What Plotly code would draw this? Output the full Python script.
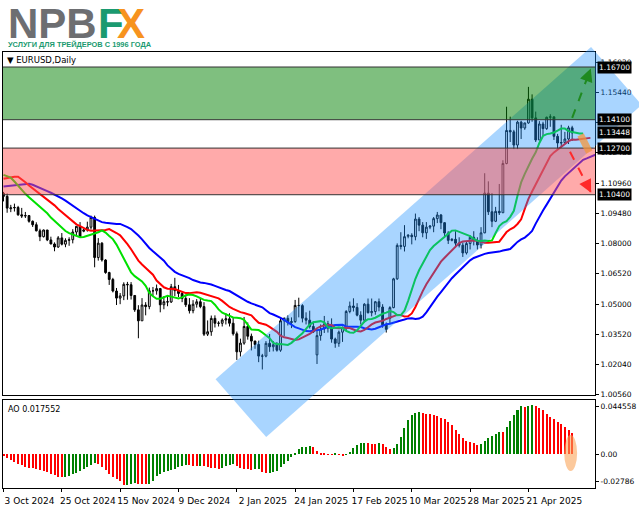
import numpy as np
import plotly.graph_objects as go

# ---------------- data (EURUSD daily) ----------------
OPEN = [1.1047,1.1032,1.0971,1.0975,1.0977,1.0941,1.0935,1.0937,1.0909,1.0892,
        1.0862,1.0833,1.0866,1.0817,1.0797,1.0782,1.0827,1.0796,1.0815,1.0818,
        1.0856,1.0884,1.0860,1.0866,1.0880,1.0928,1.0730,1.0801,1.0718,1.0656,
        1.0622,1.0565,1.0530,1.0541,1.0598,1.0596,1.0543,1.0472,1.0418,1.0496,
        1.0488,1.0566,1.0566,1.0577,1.0497,1.0512,1.0511,1.0586,1.0567,1.0553,
        1.0528,1.0497,1.0468,1.0500,1.0512,1.0488,1.0352,1.0364,1.0430,1.0406,
        1.0406,1.0422,1.0428,1.0406,1.0354,1.0265,1.0308,1.0390,1.0342,1.0318,
        1.0301,1.0244,1.0244,1.0307,1.0290,1.0300,1.0273,1.0418,1.0430,1.0409,
        1.0414,1.0494,1.0493,1.0431,1.0421,1.0390,1.0250,1.0345,1.0378,1.0403,
        1.0382,1.0328,1.0307,1.0362,1.0385,1.0464,1.0491,1.0484,1.0446,1.0421,
        1.0500,1.0458,1.0464,1.0512,1.0486,1.0398,1.0430,1.0483,1.0625,1.0790,
        1.0785,1.0835,1.0840,1.0833,1.0920,1.0890,1.0852,1.0880,1.0885,1.0922,
        1.0940,1.0902,1.0851,1.0815,1.0820,1.0801,1.0791,1.0753,1.0799,1.0830,
        1.0815,1.0792,1.0852,1.1048,1.0956,1.0909,1.0958,1.0951,1.1194,1.1357,
        1.1350,1.1285,1.1398,1.1369,1.1394,1.1511,1.1419,1.1310,1.1389,1.1366,
        1.1422,1.1424,1.1328,1.1295,1.1297,1.1315,1.1370]
HIGH = [1.1054,1.1046,1.0990,1.0996,1.0985,1.0975,1.0955,1.0940,1.0913,1.0904,
        1.0872,1.0868,1.0866,1.0833,1.0805,1.0836,1.0851,1.0825,1.0830,1.0870,
        1.0885,1.0905,1.0872,1.0907,1.0937,1.0937,1.0826,1.0806,1.0722,1.0660,
        1.0630,1.0580,1.0555,1.0608,1.0610,1.0609,1.0545,1.0495,1.0530,1.0510,
        1.0582,1.0585,1.0597,1.0580,1.0540,1.0545,1.0600,1.0630,1.0595,1.0560,
        1.0540,1.0530,1.0520,1.0525,1.0530,1.0510,1.0420,1.0444,1.0445,1.0416,
        1.0430,1.0456,1.0455,1.0435,1.0365,1.0330,1.0437,1.0410,1.0355,1.0320,
        1.0320,1.0255,1.0318,1.0353,1.0318,1.0313,1.0433,1.0435,1.0445,1.0435,
        1.0521,1.0532,1.0500,1.0460,1.0468,1.0415,1.0375,1.0400,1.0442,1.0418,
        1.0430,1.0335,1.0370,1.0390,1.0471,1.0513,1.0529,1.0505,1.0465,1.0505,
        1.0528,1.0528,1.0516,1.0528,1.0500,1.0410,1.0490,1.0630,1.0800,1.0855,
        1.0890,1.0845,1.0850,1.0947,1.0930,1.0905,1.0905,1.0890,1.0930,1.0955,
        1.0945,1.0905,1.0860,1.0825,1.0860,1.0830,1.0805,1.0810,1.0840,1.0860,
        1.0830,1.0880,1.1146,1.1106,1.1048,1.0980,1.1093,1.1210,1.1474,1.1425,
        1.1360,1.1405,1.1405,1.1395,1.1572,1.1535,1.1450,1.1403,1.1400,1.1425,
        1.1437,1.1425,1.1340,1.1385,1.1350,1.1380,1.1380]
LOW = [1.1007,1.0951,1.0954,1.0957,1.0936,1.0925,1.0925,1.0902,1.0881,1.0859,
       1.0811,1.0829,1.0811,1.0796,1.0761,1.0778,1.0790,1.0781,1.0788,1.0800,
       1.0840,1.0832,1.0855,1.0858,1.0868,1.0682,1.0715,1.0710,1.0650,1.0595,
       1.0558,1.0496,1.0500,1.0520,1.0522,1.0523,1.0462,1.0332,1.0418,1.0445,
       1.0475,1.0540,1.0547,1.0460,1.0475,1.0490,1.0506,1.0540,1.0535,1.0510,
       1.0486,1.0454,1.0455,1.0483,1.0480,1.0343,1.0343,1.0344,1.0385,1.0390,
       1.0390,1.0400,1.0390,1.0345,1.0225,1.0242,1.0300,1.0325,1.0272,1.0280,
       1.0214,1.0178,1.0238,1.0265,1.0267,1.0266,1.0265,1.0342,1.0395,1.0382,
       1.0408,1.0435,1.0410,1.0400,1.0380,1.0358,1.0205,1.0320,1.0358,1.0360,
       1.0310,1.0285,1.0290,1.0314,1.0370,1.0455,1.0464,1.0440,1.0400,1.0410,
       1.0454,1.0440,1.0448,1.0465,1.0384,1.0360,1.0405,1.0480,1.0620,1.0770,
       1.0760,1.0825,1.0795,1.0815,1.0860,1.0830,1.0822,1.0870,1.0855,1.0900,
       1.0870,1.0830,1.0797,1.0810,1.0780,1.0780,1.0733,1.0745,1.0770,1.0790,
       1.0770,1.0775,1.0850,1.0940,1.0880,1.0905,1.0940,1.0950,1.1190,1.1300,
       1.1265,1.1265,1.1315,1.1360,1.1390,1.1400,1.1300,1.1310,1.1330,1.1360,
       1.1375,1.1310,1.1265,1.1280,1.1295,1.1290,1.1305]
CLOSE = [1.1032,1.0974,1.0975,1.0977,1.0941,1.0935,1.0937,1.0909,1.0892,1.0862,
         1.0833,1.0866,1.0817,1.0797,1.0782,1.0827,1.0796,1.0815,1.0818,1.0856,
         1.0884,1.0833,1.0866,1.0880,1.0928,1.0730,1.0801,1.0718,1.0656,1.0622,
         1.0565,1.0530,1.0541,1.0598,1.0596,1.0543,1.0472,1.0418,1.0496,1.0488,
         1.0566,1.0566,1.0577,1.0497,1.0512,1.0511,1.0586,1.0567,1.0553,1.0528,
         1.0497,1.0468,1.0500,1.0512,1.0488,1.0352,1.0364,1.0430,1.0406,1.0406,
         1.0422,1.0428,1.0406,1.0354,1.0265,1.0308,1.0390,1.0342,1.0318,1.0301,
         1.0244,1.0244,1.0307,1.0290,1.0300,1.0273,1.0418,1.0430,1.0409,1.0414,
         1.0494,1.0493,1.0431,1.0421,1.0390,1.0363,1.0345,1.0378,1.0403,1.0382,
         1.0328,1.0307,1.0362,1.0385,1.0464,1.0491,1.0484,1.0446,1.0421,1.0500,
         1.0458,1.0464,1.0512,1.0486,1.0398,1.0376,1.0483,1.0625,1.0790,1.0785,
         1.0833,1.0840,1.0833,1.0920,1.0890,1.0852,1.0880,1.0885,1.0922,1.0940,
         1.0902,1.0851,1.0815,1.0820,1.0801,1.0791,1.0753,1.0799,1.0830,1.0815,
         1.0792,1.0852,1.1048,1.0956,1.0909,1.0958,1.0951,1.1194,1.1357,1.1350,
         1.1285,1.1398,1.1369,1.1394,1.1511,1.1419,1.1310,1.1389,1.1366,1.1422,
         1.1424,1.1328,1.1295,1.1297,1.1315,1.1370,1.13448]

TICK_POS = [0, 16, 32, 48, 64, 80, 96, 112, 128, 144]
TICK_TEXT = ["3 Oct 2024", "25 Oct 2024", "15 Nov 2024", "9 Dec 2024", "2 Jan 2025",
             "24 Jan 2025", "17 Feb 2025", "10 Mar 2025", "28 Mar 2025", "21 Apr 2025"]

PRICE_TICKS = [1.00560, 1.02040, 1.03520, 1.05000, 1.06520, 1.08000, 1.09480,
               1.10960, 1.12480, 1.13960, 1.15440, 1.16920]
LEVELS = [1.16700, 1.14100, 1.13448, 1.12700, 1.10400]
GREEN_ZONE = [1.14100, 1.16700]
RED_ZONE = [1.10400, 1.12700]

# Alligator lines: values already on screen for the first shifted bars
JAW_HEAD = [1.1081, 1.1083, 1.1086, 1.1088, 1.1090, 1.1092, 1.1093, 1.1094]
TEETH_HEAD = [1.1119, 1.1123, 1.1127, 1.1129, 1.1129]
LIPS_HEAD = [1.1138, 1.1132, 1.1124]

# Awesome Oscillator values for the first bars
AO_HEAD = [-0.0017, -0.0030, -0.0050, -0.0066, -0.0083, -0.0094, -0.0105, -0.0113,
           -0.0119, -0.0124, -0.0130, -0.0138, -0.0149, -0.0163, -0.0174, -0.0188,
           -0.0190, -0.0188, -0.0179, -0.0168, -0.0154, -0.0138, -0.0121, -0.0105,
           -0.0088, -0.0074, -0.0083, -0.0108, -0.0135, -0.0166, -0.0188, -0.0207,
           -0.0223]
AO_TICKS = [0.044558, 0.0, -0.02786]
AO_TEXT = ["0.044558", "0.00", "-0.02786"]

# ---------------- geometry helpers (pixel layout of the screenshot) ----------------
W, H = 639, 508
L_PX, R_PX, T_PX, B_PX = 2, 598, 52, 489
MAIN_BOTTOM_PX, AO_TOP_PX = 396, 401
BAR_PX, BAR0_PX = 3.67, 2.5


def pxx(p):
    return (p - L_PX) / (R_PX - L_PX)


def pxy(p):
    return (B_PX - p) / (B_PX - T_PX)


n = len(CLOSE)
idx = np.arange(n)
med = (np.array(HIGH) + np.array(LOW)) / 2.0


def smma_line(head, period):
    vals = list(head)
    s = head[-1]
    for m in med:
        s = (s * (period - 1) + m) / period
        vals.append(s)
    return np.arange(len(vals)), np.array(vals)


jaw_x, jaw_y = smma_line(JAW_HEAD, 13)
teeth_x, teeth_y = smma_line(TEETH_HEAD, 8)
lips_x, lips_y = smma_line(LIPS_HEAD, 5)

ao = list(AO_HEAD)
for i in range(len(AO_HEAD), n):
    ao.append(med[i - 4:i + 1].mean() - med[i - 33:i + 1].mean())
ao = np.array(ao)
ao_colors = ["#ff0000" if (i == 0 or ao[i] <= ao[i - 1]) else "#008000" for i in range(n)]

x_range = [(L_PX - BAR0_PX) / BAR_PX, (R_PX - BAR0_PX) / BAR_PX]
main_dom = [(B_PX - MAIN_BOTTOM_PX) / (B_PX - T_PX), 1.0]
ao_dom = [0.0, (B_PX - AO_TOP_PX) / (B_PX - T_PX)]
y_range = [1.0051, 1.1744]
ao_range = [AO_TICKS[2], AO_TICKS[0]]
ao_ppu = (B_PX - AO_TOP_PX) / (ao_range[1] - ao_range[0])
ao_tickvals = [AO_TICKS[0] - 6 / ao_ppu, 0.0, AO_TICKS[2] + 7 / ao_ppu]

fig = go.Figure()
fig.add_trace(go.Candlestick(
    x=idx, open=OPEN, high=HIGH, low=LOW, close=CLOSE,
    increasing=dict(line=dict(color="black", width=1), fillcolor="white"),
    decreasing=dict(line=dict(color="black", width=1), fillcolor="black"),
    whiskerwidth=0, xaxis="x", yaxis="y", showlegend=False))
fig.add_trace(go.Scatter(x=jaw_x, y=jaw_y, mode="lines", line=dict(color="#0000ff", width=2),
                         xaxis="x", yaxis="y", showlegend=False))
fig.add_trace(go.Scatter(x=teeth_x, y=teeth_y, mode="lines", line=dict(color="#ff0000", width=2),
                         xaxis="x", yaxis="y", showlegend=False))
fig.add_trace(go.Scatter(x=lips_x, y=lips_y, mode="lines", line=dict(color="#00e000", width=2),
                         xaxis="x", yaxis="y", showlegend=False))
fig.add_trace(go.Bar(x=idx, y=ao, marker=dict(color=ao_colors, line=dict(width=0)), width=0.55,
                     xaxis="x2", yaxis="y2", showlegend=False))

axis_font = dict(family="DejaVu Sans", size=7.5, color="black")
fig.update_layout(
    width=W, height=H,
    margin=dict(l=L_PX, r=W - R_PX, t=T_PX, b=H - B_PX, pad=0),
    paper_bgcolor="white", plot_bgcolor="white", showlegend=False, bargap=0,
    xaxis=dict(domain=[0, 1], range=x_range, anchor="y", showticklabels=False,
               showline=True, mirror=True, linecolor="black", linewidth=1,
               showgrid=False, zeroline=False, ticks="", rangeslider=dict(visible=False)),
    xaxis2=dict(domain=[0, 1], range=x_range, anchor="y2", tickvals=TICK_POS, ticktext=TICK_TEXT,
                ticks="outside", ticklen=3, tickcolor="black", tickangle=0,
                tickfont=dict(family="DejaVu Sans", size=9, color="black"),
                ticklabelshift=26, ticklabelstandoff=1, ticklabeloverflow="allow",
                showline=True, mirror=True, linecolor="black", linewidth=1,
                showgrid=False, zeroline=False),
    yaxis=dict(domain=main_dom, range=y_range, side="right", anchor="x",
               tickvals=PRICE_TICKS, ticktext=["%.5f" % v for v in PRICE_TICKS],
               ticks="outside", ticklen=3, tickcolor="black", tickfont=axis_font,
               ticklabeloverflow="allow",
               showline=True, mirror=True, linecolor="black", linewidth=1,
               showgrid=False, zeroline=False),
    yaxis2=dict(domain=ao_dom, range=ao_range, side="right", anchor="x2",
                tickvals=ao_tickvals, ticktext=AO_TEXT,
                ticks="outside", ticklen=3, tickcolor="black", tickfont=axis_font,
                ticklabeloverflow="allow",
                showline=True, mirror=True, linecolor="black", linewidth=1,
                showgrid=False, zeroline=False),
)

shapes = []
# rising channel
CHANNEL_PX = [(216, 380), (267, 438), (645, 105), (594, 47)]
path = "M " + " L ".join("%.4f,%.4f" % (pxx(a), pxy(b)) for a, b in CHANNEL_PX) + " Z"
shapes.append(dict(type="path", path=path, xref="paper", yref="paper", layer="above",
                   fillcolor="rgba(30,144,255,0.38)", line=dict(width=0)))
# zones
shapes.append(dict(type="rect", xref="paper", yref="y", x0=0, x1=1, y0=GREEN_ZONE[0], y1=GREEN_ZONE[1],
                   fillcolor="rgba(0,128,0,0.5)", line=dict(width=0), layer="above"))
shapes.append(dict(type="rect", xref="paper", yref="y", x0=0, x1=1, y0=RED_ZONE[0], y1=RED_ZONE[1],
                   fillcolor="rgba(255,85,85,0.5)", line=dict(width=0), layer="above"))
for lv in GREEN_ZONE + RED_ZONE:
    shapes.append(dict(type="line", xref="paper", yref="y", x0=0, x1=1, y0=lv, y1=lv,
                       line=dict(color="#333333", width=1), layer="above"))
# forecast arrows (dashed shafts)
UP_ARROW = [(156.0, 1.1419), (161.1, 1.1662)]
DOWN_ARROW = [(155.4, 1.1252), (161.2, 1.1050)]
shapes.append(dict(type="line", xref="x", yref="y", x0=UP_ARROW[0][0], y0=UP_ARROW[0][1],
                   x1=UP_ARROW[1][0], y1=UP_ARROW[1][1],
                   line=dict(color="#1f8a1f", width=2, dash="dash"), layer="above"))
shapes.append(dict(type="line", xref="x", yref="y", x0=DOWN_ARROW[0][0], y0=DOWN_ARROW[0][1],
                   x1=DOWN_ARROW[1][0], y1=DOWN_ARROW[1][1],
                   line=dict(color="#ff2a2a", width=2, dash="dash"), layer="above"))
# orange highlights
shapes.append(dict(type="line", xref="x", yref="y", x0=158.3, y0=1.1335, x1=160.7, y1=1.1250,
                   line=dict(color="rgba(245,150,60,0.75)", width=7), layer="above"))
shapes.append(dict(type="circle", xref="paper", yref="paper", x0=pxx(567), x1=pxx(580),
                   y0=pxy(472), y1=pxy(436), fillcolor="rgba(250,165,90,0.6)",
                   line=dict(width=0), layer="above"))
fig.update_layout(shapes=shapes)

ann = []
for (start, tip, col) in [(UP_ARROW[0], UP_ARROW[1], "#1f8a1f"), (DOWN_ARROW[0], DOWN_ARROW[1], "#ff2a2a")]:
    tx = start[0] + 0.85 * (tip[0] - start[0])
    ty = start[1] + 0.85 * (tip[1] - start[1])
    ann.append(dict(x=tip[0], y=tip[1], ax=tx, ay=ty, xref="x", yref="y", axref="x", ayref="y",
                    text="", showarrow=True, arrowhead=2, arrowsize=1.3, arrowwidth=2, arrowcolor=col))
for lv in LEVELS:
    ann.append(dict(x=pxx(600), y=lv, xref="paper", yref="y", xanchor="left", yanchor="middle",
                    text="%.5f" % lv, showarrow=False, bgcolor="black", borderpad=1,
                    font=dict(family="DejaVu Sans", size=7.5, color="white")))
# logo
ann.append(dict(x=pxx(5), y=pxy(23), xref="paper", yref="paper", xanchor="left", yanchor="middle",
                text="<b>NPB</b>", showarrow=False,
                font=dict(family="Liberation Sans", size=42, color="#6d6e71")))
ann.append(dict(x=pxx(96), y=pxy(23), xref="paper", yref="paper", xanchor="left", yanchor="middle",
                text="<b>F</b>", showarrow=False,
                font=dict(family="Liberation Sans", size=42, color="#1a9a70")))
ann.append(dict(x=pxx(115), y=pxy(23), xref="paper", yref="paper", xanchor="left", yanchor="middle",
                text="<b>X</b>", showarrow=False,
                font=dict(family="Liberation Sans", size=42, color="#f7931e")))
ann.append(dict(x=pxx(5), y=pxy(44), xref="paper", yref="paper", xanchor="left", yanchor="middle",
                text="<b>УСЛУГИ ДЛЯ ТРЕЙДЕРОВ С 1996 ГОДА</b>", showarrow=False,
                font=dict(family="Liberation Sans", size=7.4, color="#1a9a70")))
ann.append(dict(x=pxx(4), y=pxy(60), xref="paper", yref="paper", xanchor="left", yanchor="middle",
                text="▼ EURUSD,Daily", showarrow=False,
                font=dict(family="DejaVu Sans", size=8.5, color="black")))
ann.append(dict(x=pxx(5), y=pxy(410), xref="paper", yref="paper", xanchor="left", yanchor="middle",
                text="AO 0.017552", showarrow=False,
                font=dict(family="DejaVu Sans", size=8, color="black")))
fig.update_layout(annotations=ann)

fig.write_html("out.html", config={"displayModeBar": False},
               post_script="document.body.style.margin='0';document.body.style.padding='0';")
